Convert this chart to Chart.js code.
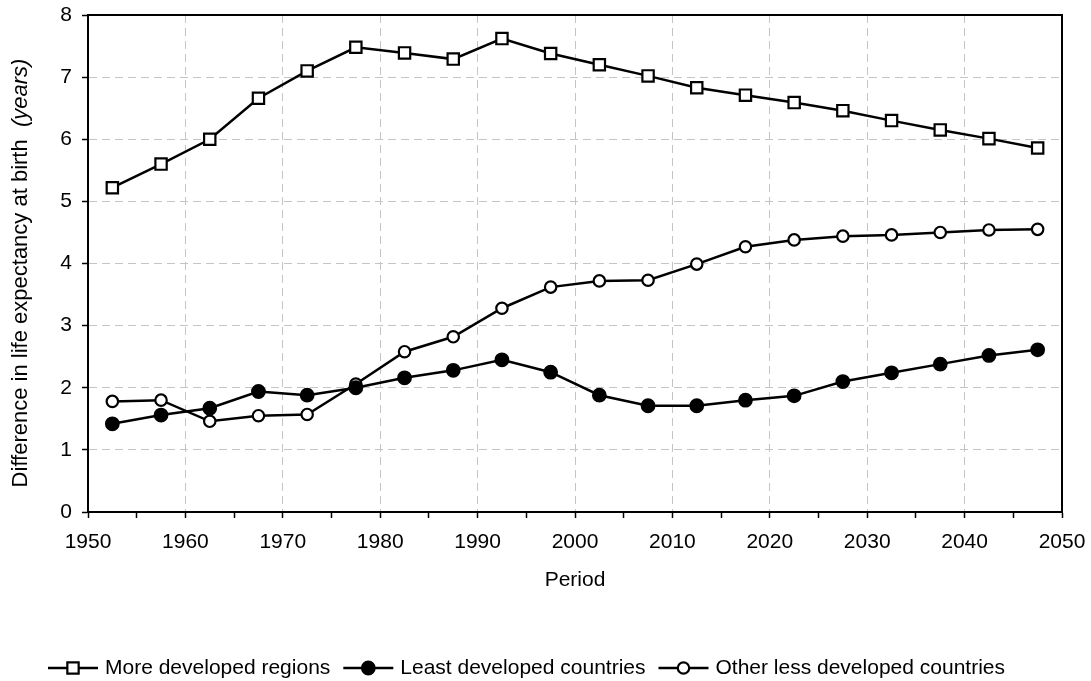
<!DOCTYPE html>
<html>
<head>
<meta charset="utf-8">
<script src="https://cdn.jsdelivr.net/npm/chart.js@4/dist/chart.umd.min.js"></script>
<style>
  html, body { margin: 0; padding: 0; background: #ffffff; overflow: hidden; }
  #wrap { width: 1091px; height: 681px; position: relative; }
</style>
</head>
<body>
<div id="wrap"><canvas id="c" width="1091" height="681"></canvas></div>
<script>
// ---- Data ----
const periods = [1952.5, 1957.5, 1962.5, 1967.5, 1972.5, 1977.5, 1982.5, 1987.5, 1992.5, 1997.5,
                 2002.5, 2007.5, 2012.5, 2017.5, 2022.5, 2027.5, 2032.5, 2037.5, 2042.5, 2047.5];
const moreDeveloped = [5.22, 5.60, 6.00, 6.66, 7.10, 7.48, 7.39, 7.29, 7.62, 7.38,
                       7.20, 7.02, 6.83, 6.71, 6.59, 6.46, 6.30, 6.15, 6.01, 5.86];
const leastDeveloped = [1.42, 1.56, 1.67, 1.94, 1.88, 2.00, 2.16, 2.28, 2.45, 2.25,
                        1.88, 1.71, 1.71, 1.80, 1.87, 2.10, 2.24, 2.38, 2.52, 2.61];
const otherLessDeveloped = [1.78, 1.80, 1.46, 1.55, 1.57, 2.06, 2.58, 2.82, 3.28, 3.62,
                            3.72, 3.73, 3.99, 4.27, 4.38, 4.44, 4.46, 4.50, 4.54, 4.55];
const seriesNames = ['More developed regions', 'Least developed countries', 'Other less developed countries'];
const xTitle = 'Period';
const yTitleMain = 'Difference in life expectancy at birth  ';
const yTitleUnit = '(years)';

const FONT = '"Liberation Sans", Arial, sans-serif';
const FS = 21;
const FS_YT = 22;

function pts(vals) { return vals.map((v, i) => ({ x: periods[i], y: v })); }

const styles = [
  { pointStyle: 'rect', radius: 8, fill: '#ffffff' },
  { pointStyle: 'circle', radius: 6.3, fill: '#000000' },
  { pointStyle: 'circle', radius: 5.7, fill: '#ffffff' }
];
const seriesData = [moreDeveloped, leastDeveloped, otherLessDeveloped];

const datasets = seriesData.map((vals, i) => ({
  label: seriesNames[i],
  data: pts(vals),
  borderColor: '#000000',
  borderWidth: 2.5,
  backgroundColor: styles[i].fill,
  pointStyle: styles[i].pointStyle,
  pointRadius: styles[i].radius,
  pointHoverRadius: styles[i].radius,
  pointBackgroundColor: styles[i].fill,
  pointBorderColor: '#000000',
  pointBorderWidth: 2.2,
  tension: 0,
  fill: false,
  clip: false
}));

const framePlugin = {
  id: 'frameAndText',
  afterDraw(chart) {
    const { ctx, chartArea: a } = chart;
    ctx.save();
    ctx.strokeStyle = '#000000';
    ctx.lineWidth = 2;
    ctx.strokeRect(a.left, a.top, a.right - a.left, a.bottom - a.top);

    ctx.fillStyle = '#000000';
    ctx.font = FS + 'px ' + FONT;
    ctx.textAlign = 'center';
    ctx.textBaseline = 'middle';
    ctx.fillText(xTitle, (a.left + a.right) / 2, 580);

    ctx.translate(21, 273);
    ctx.rotate(-Math.PI / 2);
    ctx.textAlign = 'left';
    ctx.font = FS_YT + 'px ' + FONT;
    const w1 = ctx.measureText(yTitleMain).width;
    ctx.font = 'italic ' + FS_YT + 'px ' + FONT;
    const w2 = ctx.measureText(yTitleUnit).width;
    const sx = -(w1 + w2) / 2;
    ctx.font = FS_YT + 'px ' + FONT;
    ctx.fillText(yTitleMain, sx, 0);
    ctx.font = 'italic ' + FS_YT + 'px ' + FONT;
    ctx.fillText(yTitleUnit, sx + w1, 0);
    ctx.restore();

    ctx.save();
    ctx.font = FS + 'px ' + FONT;
    ctx.textBaseline = 'middle';
    ctx.textAlign = 'left';
    let x = 48;
    const y = 668;
    chart.data.datasets.forEach((ds, i) => {
      ctx.strokeStyle = '#000000';
      ctx.lineWidth = 2.5;
      ctx.beginPath();
      ctx.moveTo(x, y);
      ctx.lineTo(x + 50, y);
      ctx.stroke();
      const cx = x + 25;
      ctx.lineWidth = 2.2;
      ctx.fillStyle = styles[i].fill;
      ctx.beginPath();
      if (styles[i].pointStyle === 'rect') {
        const s = styles[i].radius * Math.SQRT1_2;
        ctx.rect(cx - s, y - s, 2 * s, 2 * s);
      } else {
        ctx.arc(cx, y, styles[i].radius, 0, Math.PI * 2);
      }
      ctx.fill();
      ctx.stroke();
      ctx.fillStyle = '#000000';
      ctx.fillText(ds.label, x + 57, y);
      x += 57 + ctx.measureText(ds.label).width + 13;
    });
    ctx.restore();
  }
};

new Chart(document.getElementById('c'), {
  type: 'line',
  data: { datasets },
  options: {
    responsive: false,
    animation: false,
    devicePixelRatio: 1,
    layout: { padding: { top: 15, right: 29, bottom: 0, left: 0 } },
    plugins: { legend: { display: false }, tooltip: { enabled: false }, title: { display: false } },
    scales: {
      x: {
        type: 'linear',
        min: 1950,
        max: 2050,
        afterFit(scale) {
          scale.height = 169;
          scale.paddingLeft = 0; scale.paddingRight = 0;
          scale.paddingTop = 0; scale.paddingBottom = 0;
        },
        ticks: {
          stepSize: 5,
          autoSkip: false,
          maxRotation: 0,
          minRotation: 0,
          padding: 12,
          color: '#000000',
          font: { family: FONT, size: FS },
          callback: (v) => (v % 10 === 0 ? String(v) : '')
        },
        grid: {
          color: (c) => (c.tick && c.tick.value % 10 === 0 ? '#c4c4c4' : 'rgba(0,0,0,0)'),
          lineWidth: 1,
          tickColor: '#000000',
          tickLength: 6,
          tickWidth: 1.5
        },
        border: { display: true, color: '#000000', width: 2, dash: [8, 5] }
      },
      y: {
        min: 0,
        max: 8,
        afterFit(scale) {
          scale.width = 88;
          scale.paddingLeft = 0; scale.paddingRight = 0;
          scale.paddingTop = 0; scale.paddingBottom = 0;
        },
        ticks: {
          stepSize: 1,
          padding: 10,
          color: '#000000',
          font: { family: FONT, size: FS }
        },
        grid: {
          color: '#c4c4c4',
          lineWidth: 1,
          tickColor: '#000000',
          tickLength: 6,
          tickWidth: 1.5
        },
        border: { display: true, color: '#000000', width: 2, dash: [8, 5] }
      }
    }
  },
  plugins: [framePlugin]
});
</script>
</body>
</html>
